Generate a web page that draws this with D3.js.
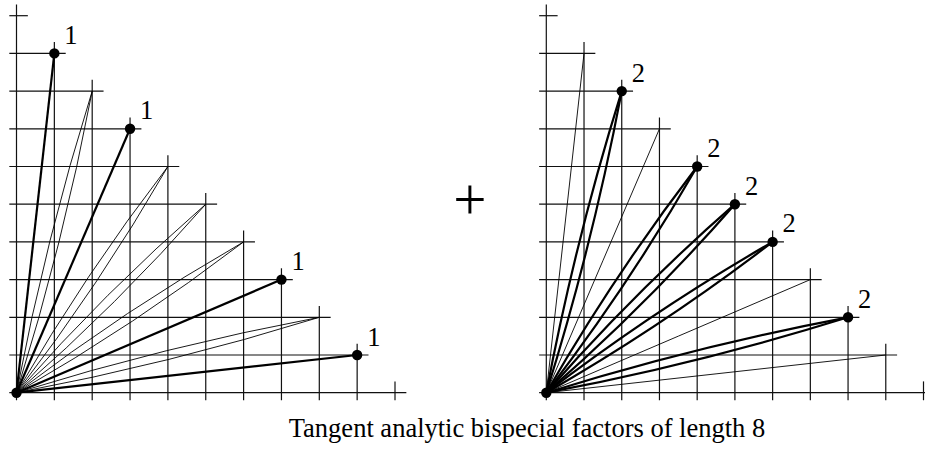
<!DOCTYPE html>
<html>
<head>
<meta charset="utf-8">
<script src="https://cdn.jsdelivr.net/npm/d3@7/dist/d3.min.js"></script>
<style>
  html, body { margin: 0; padding: 0; background: #fff; }
  svg { display: block; }
</style>
</head>
<body>
<svg id="chart" width="925" height="449"></svg>
<script>
// ---- data ----
const pointX = [1, 2, 3, 4, 5, 6, 7, 8, 9];
const pointY = [9, 8, 7, 6, 5, 4, 3, 2, 1];
const leftStrands  = [1, 2, 1, 2, 2, 2, 1, 2, 1];
const leftThick    = [true, false, true, false, false, false, true, false, true];
const leftLabels   = ["1", "", "1", "", "", "", "1", "", "1"];
const rightStrands = [1, 2, 1, 2, 2, 2, 1, 2, 1];
const rightThick   = [false, true, false, true, true, true, false, true, false];
const rightLabels  = ["", "2", "", "2", "2", "2", "", "2", ""];
const gridTicks = [0, 1, 2, 3, 4, 5, 6, 7, 8, 9, 10];
const gridSum = 10;
const titleText = "Tangent analytic bispecial factors of length 8";
const operatorText = "+";

// ---- drawing ----
const svg = d3.select("#chart");
const FONT = "'Liberation Serif', 'Times New Roman', serif";

function panel(x0, x10, strands, thick, labels) {
  const x = d3.scaleLinear().domain([0, 10]).range([x0, x10]);
  const y = d3.scaleLinear().domain([0, 10]).range([392.7, 15.7]);
  const g = svg.append("g");

  // staircase grid
  g.selectAll("line.h").data(gridTicks).join("line")
    .attr("x1", x(-0.19)).attr("x2", k => x(gridSum - k + 0.3))
    .attr("y1", k => y(k)).attr("y2", k => y(k))
    .attr("stroke", "#111").attr("stroke-width", 1.2);
  g.selectAll("line.v").data(gridTicks).join("line")
    .attr("x1", k => x(k)).attr("x2", k => x(k))
    .attr("y1", y(-0.2)).attr("y2", k => y(gridSum - k + 0.3))
    .attr("stroke", "#111").attr("stroke-width", 1.2);

  // rays
  const rays = [];
  pointX.forEach((px, i) => {
    const n = strands[i];
    for (let s = 0; s < n; s++) {
      const bend = n === 1 ? 0 : (s === 0 ? -1 : 1);
      rays.push({ px, py: pointY[i], bend, thick: thick[i] });
    }
  });
  const ox = x(0), oy = y(0);
  g.selectAll("path.ray").data(rays).join("path")
    .attr("d", r => {
      const tx = x(r.px), ty = y(r.py);
      const dx = tx - ox, dy = ty - oy;
      const L = Math.hypot(dx, dy);
      const nx = -dy / L, ny = dx / L;
      const h = 9 * r.bend;
      const cx = (ox + tx) / 2 + nx * h, cy = (oy + ty) / 2 + ny * h;
      return `M${ox},${oy}Q${cx},${cy} ${tx},${ty}`;
    })
    .attr("fill", "none").attr("stroke", "#000")
    .attr("stroke-width", r => r.thick ? 2.2 : 0.9);

  // dots
  const dotIdx = pointX.map((_, i) => i).filter(i => labels[i] !== "");
  g.selectAll("circle.pt").data(dotIdx).join("circle")
    .attr("cx", i => x(pointX[i])).attr("cy", i => y(pointY[i])).attr("r", 5.2)
    .attr("fill", "#000");
  g.append("circle").attr("cx", ox).attr("cy", oy).attr("r", 5.2).attr("fill", "#000");

  g.selectAll("text.lab").data(dotIdx).join("text")
    .attr("x", i => x(pointX[i]) + 10).attr("y", i => y(pointY[i]) - 9.5)
    .attr("font-family", FONT).attr("font-size", 26.5).attr("fill", "#000")
    .text(i => labels[i]);
}

panel(16.5, 395, leftStrands, leftThick, leftLabels);
panel(546.3, 923.5, rightStrands, rightThick, rightLabels);

svg.append("text").attr("x", 470).attr("y", 219)
  .attr("text-anchor", "middle")
  .attr("font-family", FONT).attr("font-size", 59).attr("fill", "#000")
  .text(operatorText);

svg.append("text").attr("x", 527).attr("y", 437)
  .attr("text-anchor", "middle")
  .attr("font-family", FONT).attr("font-size", 26.5).attr("fill", "#000")
  .text(titleText);
</script>
</body>
</html>
